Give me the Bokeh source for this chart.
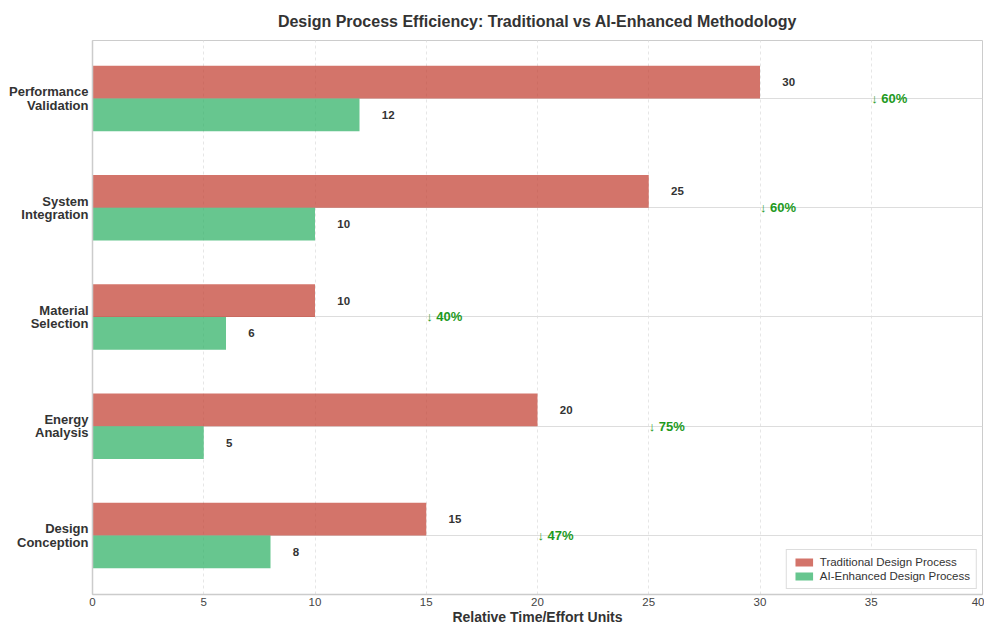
from bokeh.plotting import figure
from bokeh.models import ColumnDataSource, Range1d, FixedTicker, Legend, LegendItem
from bokeh.core.properties import value
from bokeh.embed import file_html
from bokeh.resources import INLINE

categories = ["Design\nConception", "Energy\nAnalysis", "Material\nSelection",
              "System\nIntegration", "Performance\nValidation"]
traditional = [15, 20, 10, 25, 30]
ai_enhanced = [8, 5, 6, 10, 12]
x_ticks = [0, 5, 10, 15, 20, 25, 30, 35, 40]

FONT = "Liberation Sans"
TRAD_COLOR = "#c0392b"
AI_COLOR = "#27ae60"

idx = list(range(len(categories)))
reductions = [round((t - a) / t * 100) for t, a in zip(traditional, ai_enhanced)]

src = ColumnDataSource(dict(
    yc=idx,
    y_t=[i + 0.15 for i in idx],
    y_a=[i - 0.15 for i in idx],
    trad=traditional,
    ai=ai_enhanced,
    trad_lbl=[str(v) for v in traditional],
    ai_lbl=[str(v) for v in ai_enhanced],
    trad_lx=[v + 1 for v in traditional],
    ai_lx=[v + 1 for v in ai_enhanced],
    red_x=[t + 5 for t in traditional],
    red_lbl=["\u2193 %d%%" % r for r in reductions],
))

p = figure(width=984, height=627, output_backend="svg", toolbar_location=None,
           x_range=Range1d(0, 40), y_range=Range1d(-0.54, 4.53),
           min_border_left=92, min_border_right=2, min_border_top=40, min_border_bottom=0,
           title="Design Process Efficiency: Traditional vs AI-Enhanced Methodology")

p.title.text_font = FONT
p.title.text_font_size = "16px"
p.title.text_font_style = "bold"
p.title.text_color = "#333333"
p.title.align = "center"
p.title.offset = 0
p.title.standoff = 21

r_t = p.hbar(y="y_t", right="trad", left=0, height=0.3, source=src,
             fill_color=TRAD_COLOR, fill_alpha=0.7, line_color=None)
r_a = p.hbar(y="y_a", right="ai", left=0, height=0.3, source=src,
             fill_color=AI_COLOR, fill_alpha=0.7, line_color=None)

p.text(x="trad_lx", y="y_t", text="trad_lbl", source=src, text_font=value(FONT),
       text_font_size="11.5px", text_font_style="bold", text_color="#333333",
       text_align="left", text_baseline="middle")
p.text(x="ai_lx", y="y_a", text="ai_lbl", source=src, text_font=value(FONT),
       text_font_size="11.5px", text_font_style="bold", text_color="#333333",
       text_align="left", text_baseline="middle")
p.text(x="red_x", y="yc", text="red_lbl", source=src, text_font=value(FONT),
       text_font_size="13px", text_font_style="bold", text_color="#1e9a1e",
       text_align="left", text_baseline="middle")

# axes
p.xaxis.ticker = FixedTicker(ticks=x_ticks)
p.yaxis.ticker = FixedTicker(ticks=idx)
p.yaxis.major_label_overrides = {i: c for i, c in zip(idx, categories)}
p.yaxis.major_label_text_font_style = "bold"
p.yaxis.major_label_text_font_size = "13px"
p.yaxis.major_label_text_color = "#333333"
p.yaxis.major_label_text_font = FONT
p.yaxis.major_label_text_line_height = 0.88
p.xaxis.major_label_text_font = FONT
p.xaxis.major_label_text_font_size = "11.5px"
p.xaxis.major_label_text_color = "#444444"
p.xaxis.axis_label = "Relative Time/Effort Units"
p.xaxis.axis_label_text_font = FONT
p.xaxis.axis_label_text_font_size = "14px"
p.xaxis.axis_label_text_font_style = "bold"
p.xaxis.axis_label_text_color = "#333333"
p.xaxis.axis_label_standoff = 0
for ax in (p.xaxis, p.yaxis):
    ax.major_tick_line_color = None
    ax.minor_tick_line_color = None
    ax.major_tick_out = 0
    ax.major_tick_in = 0
    ax.minor_tick_out = 0
    ax.minor_tick_in = 0
    ax.axis_line_color = "#cccccc"
    ax.axis_line_width = 1.5
p.xaxis.major_label_standoff = 3
p.yaxis.major_label_standoff = 4

p.xgrid.grid_line_color = "#e6e6e6"
p.xgrid.grid_line_dash = "3 3"
p.ygrid.grid_line_color = "#dddddd"
p.ygrid.grid_line_width = 1
p.outline_line_color = "#cccccc"
p.outline_line_width = 1

legend = Legend(items=[
    LegendItem(label="Traditional Design Process", renderers=[r_t]),
    LegendItem(label="AI-Enhanced Design Process", renderers=[r_a]),
], location="bottom_right")
legend.label_text_font = FONT
legend.label_text_font_size = "11.5px"
legend.label_text_color = "#333333"
legend.border_line_color = "#bbbbbb"
legend.background_fill_alpha = 1
legend.glyph_height = 10
legend.glyph_width = 22
legend.spacing = 2
legend.padding = 6
legend.margin = 5
legend.label_height = 12
p.add_layout(legend)

p.background_fill_color = "white"
p.border_fill_color = "white"

open("out.html", "w").write(file_html(p, INLINE))
